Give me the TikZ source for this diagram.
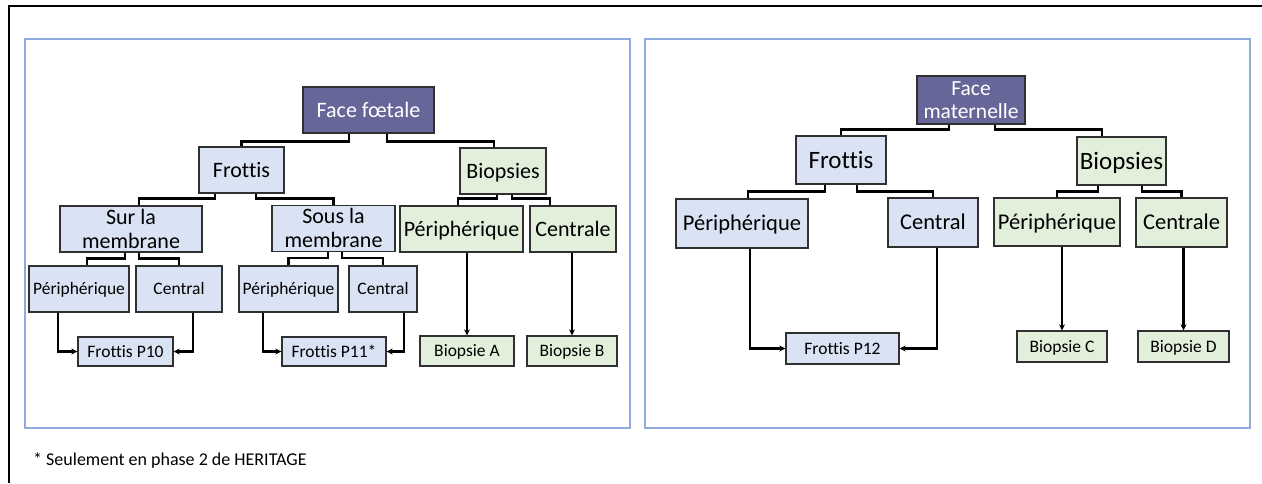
\documentclass[tikz,border=0pt]{standalone}
\usepackage{fontspec}
\setmainfont{Carlito}[Ligatures={NoCommon}]
\usetikzlibrary{arrows.meta,calc}

\definecolor{bluefill}{HTML}{DAE3F3}
\definecolor{greenfill}{HTML}{E2EFDA}
\definecolor{facefill}{HTML}{666699}
\definecolor{boxline}{HTML}{303030}
\definecolor{panelline}{HTML}{8FAADC}

\tikzset{
  box/.style={draw=boxline, line width=1.3pt, rectangle, inner sep=0pt, align=center, text depth=0pt},
  bluebox/.style={box, fill=bluefill, text=black},
  greenbox/.style={box, fill=greenfill, text=black},
  facebox/.style={box, fill=facefill, text=white},
  fL/.style={font=\fontsize{22}{24}\selectfont, text height=14.2pt},
  fL2/.style={font=\fontsize{22}{24}\selectfont, text height=38.2pt},
  fS/.style={font=\fontsize{17.5}{20}\selectfont, text height=11.3pt},
  fRB/.style={font=\fontsize{25}{28}\selectfont, text height=16.1pt},
  fRM/.style={font=\fontsize{22.5}{25}\selectfont, text height=14.5pt},
  fM2/.style={font=\fontsize{21.5}{23}\selectfont, text height=36.8pt},
  conn/.style={draw=black, line width=2.4pt},
  arr/.style={conn, -{Stealth[length=6pt,width=6pt]}},
  panel/.style={draw=panelline, line width=1.2pt},
}

\begin{document}
\begin{tikzpicture}[x=1pt,y=-1pt]
  % page and outer frame
  \fill[white] (0,0) rectangle (1262,483);
  \useasboundingbox (0,0) rectangle (1262,483);
  \draw[line width=2pt] (9,483) -- (9,6) -- (1262,6);

  % the two panels
  \draw[panel] (25,39) rectangle (630,428);
  \draw[panel] (645,39) rectangle (1250,428);

  % ---------- fetal side ----------
  \node[facebox, fL, minimum width=131pt, minimum height=46pt] (ff) at (368.5,110) {Face fœtale};
  \node[bluebox, fL, minimum width=85pt, minimum height=46pt] (fr1) at (241.5,170) {Frottis};
  \node[greenbox, fL, minimum width=86pt, minimum height=46pt] (bi1) at (503,171) {Biopsies};
  \node[bluebox, fL2, minimum width=142pt, minimum height=46pt] (sur) at (131,229) {Sur la\\membrane};
  \node[bluebox, fL2, minimum width=123pt, minimum height=46pt] (sous) at (333.5,228.5) {Sous la\\membrane};
  \node[greenbox, fL, minimum width=123pt, minimum height=46pt] (pg1) at (461.5,229) {Périphérique};
  \node[greenbox, fL, minimum width=86pt, minimum height=46pt] (cg1) at (573,229) {Centrale};
  \node[bluebox, fS, minimum width=100pt, minimum height=46pt] (p1) at (79,289) {Périphérique};
  \node[bluebox, fS, minimum width=86pt, minimum height=46pt] (c1) at (179,289) {Central};
  \node[bluebox, fS, minimum width=99pt, minimum height=46pt] (p2) at (288.5,289) {Périphérique};
  \node[bluebox, fS, minimum width=68pt, minimum height=46pt] (c2) at (383,289) {Central};
  \node[bluebox, fS, minimum width=95pt, minimum height=29pt] (f10) at (125.5,351.5) {Frottis P10};
  \node[bluebox, fS, minimum width=104pt, minimum height=29pt] (f11) at (334,351.5) {Frottis P11*};
  \node[greenbox, fS, minimum width=94pt, minimum height=30pt] (ba) at (467,351) {Biopsie A};
  \node[greenbox, fS, minimum width=90pt, minimum height=30pt] (bb) at (572,351) {Biopsie B};

  \draw[conn] ($(ff.south)+(-19.5,0)$) -- ++(0,8) -| (fr1.north);
  \draw[conn] ($(ff.south)+(18.5,0)$) -- ++(0,8) -| ($(bi1.north)+(-9,0)$);
  \draw[conn] ($(fr1.south)+(-26.5,0)$) -- ++(0,5) -| ($(sur.north)+(8,0)$);
  \draw[conn] ($(fr1.south)+(14.5,0)$) -- ++(0,5) -| (sous.north);
  \draw[conn] ($(bi1.south)+(-6,0)$) -- ++(0,4) -| ($(pg1.north)+(-3.5,0)$);
  \draw[conn] ($(bi1.south)+(9,0)$) -- ++(0,4) -| ($(cg1.north)+(-23,0)$);
  \draw[conn] ($(sur.south)+(-6,0)$) -- ++(0,6) -| ($(p1.north)+(8,0)$);
  \draw[conn] ($(sur.south)+(8,0)$) -- ++(0,6) -| (c1.north);
  \draw[conn] ($(sous.south)+(-5.5,0)$) -- ++(0,6) -| (p2.north);
  \draw[conn] ($(sous.south)+(8.5,0)$) -- ++(0,6) -| (c2.north);
  \draw[arr] ($(p1.south)+(-21,0)$) |- (f10.west);
  \draw[arr] ($(c1.south)+(14,0)$) |- (f10.east);
  \draw[arr] ($(p2.south)+(-25.5,0)$) |- (f11.west);
  \draw[arr] ($(c2.south)+(21,0)$) |- (f11.east);
  \draw[arr] (pg1.south -| ba.north) -- (ba.north);
  \draw[arr] (cg1.south -| bb.north) -- (bb.north);

  % ---------- maternal side ----------
  \node[facebox, fM2, minimum width=108pt, minimum height=48pt] (fm) at (971,100) {Face\\maternelle};
  \node[bluebox, fRB, minimum width=90pt, minimum height=48pt] (fr2) at (841,160) {Frottis};
  \node[greenbox, fRB, minimum width=89pt, minimum height=48pt] (bi2) at (1121.5,161) {Biopsies};
  \node[bluebox, fRM, minimum width=132pt, minimum height=49pt] (p3) at (742,223.5) {Périphérique};
  \node[bluebox, fRM, minimum width=90pt, minimum height=49pt] (c3) at (933,222.5) {Central};
  \node[greenbox, fRM, minimum width=126pt, minimum height=48pt] (pg2) at (1057,222) {Périphérique};
  \node[greenbox, fRM, minimum width=91pt, minimum height=49pt] (cg2) at (1181.5,222.5) {Centrale};
  \node[bluebox, fS, minimum width=113pt, minimum height=31pt] (f12) at (842.5,348.5) {Frottis P12};
  \node[greenbox, fS, minimum width=90pt, minimum height=31pt] (bc) at (1062,346.5) {Biopsie C};
  \node[greenbox, fS, minimum width=91pt, minimum height=31pt] (bd) at (1183.5,346.5) {Biopsie D};

  \draw[conn] ($(fm.south)+(-22,0)$) -- ++(0,5) -| (fr2.north);
  \draw[conn] ($(fm.south)+(24,0)$) -- ++(0,5) -| ($(bi2.north)+(-19.5,0)$);
  \draw[conn] ($(fr2.south)+(-16,0)$) -- ++(0,7) -| ($(p3.north)+(6,0)$);
  \draw[conn] ($(fr2.south)+(16,0)$) -- ++(0,7) -| (c3.north);
  \draw[conn] ($(bi2.south)+(-23.5,0)$) -- ++(0,6) -| (pg2.north);
  \draw[conn] ($(bi2.south)+(20.5,0)$) -- ++(0,6) -| (cg2.north);
  \draw[arr] ($(p3.south)+(8,0)$) |- (f12.west);
  \draw[arr] ($(c3.south)+(4,0)$) |- (f12.east);
  \draw[arr] (pg2.south -| bc.north) -- (bc.north);
  \draw[arr] (cg2.south -| bd.north) -- (bd.north);

  % footnote
  \node[anchor=base west, inner sep=0pt, font=\fontsize{18}{20}\selectfont] (note) at (33,465) {* Seulement en phase 2 de HERITAGE};
\end{tikzpicture}
\end{document}
